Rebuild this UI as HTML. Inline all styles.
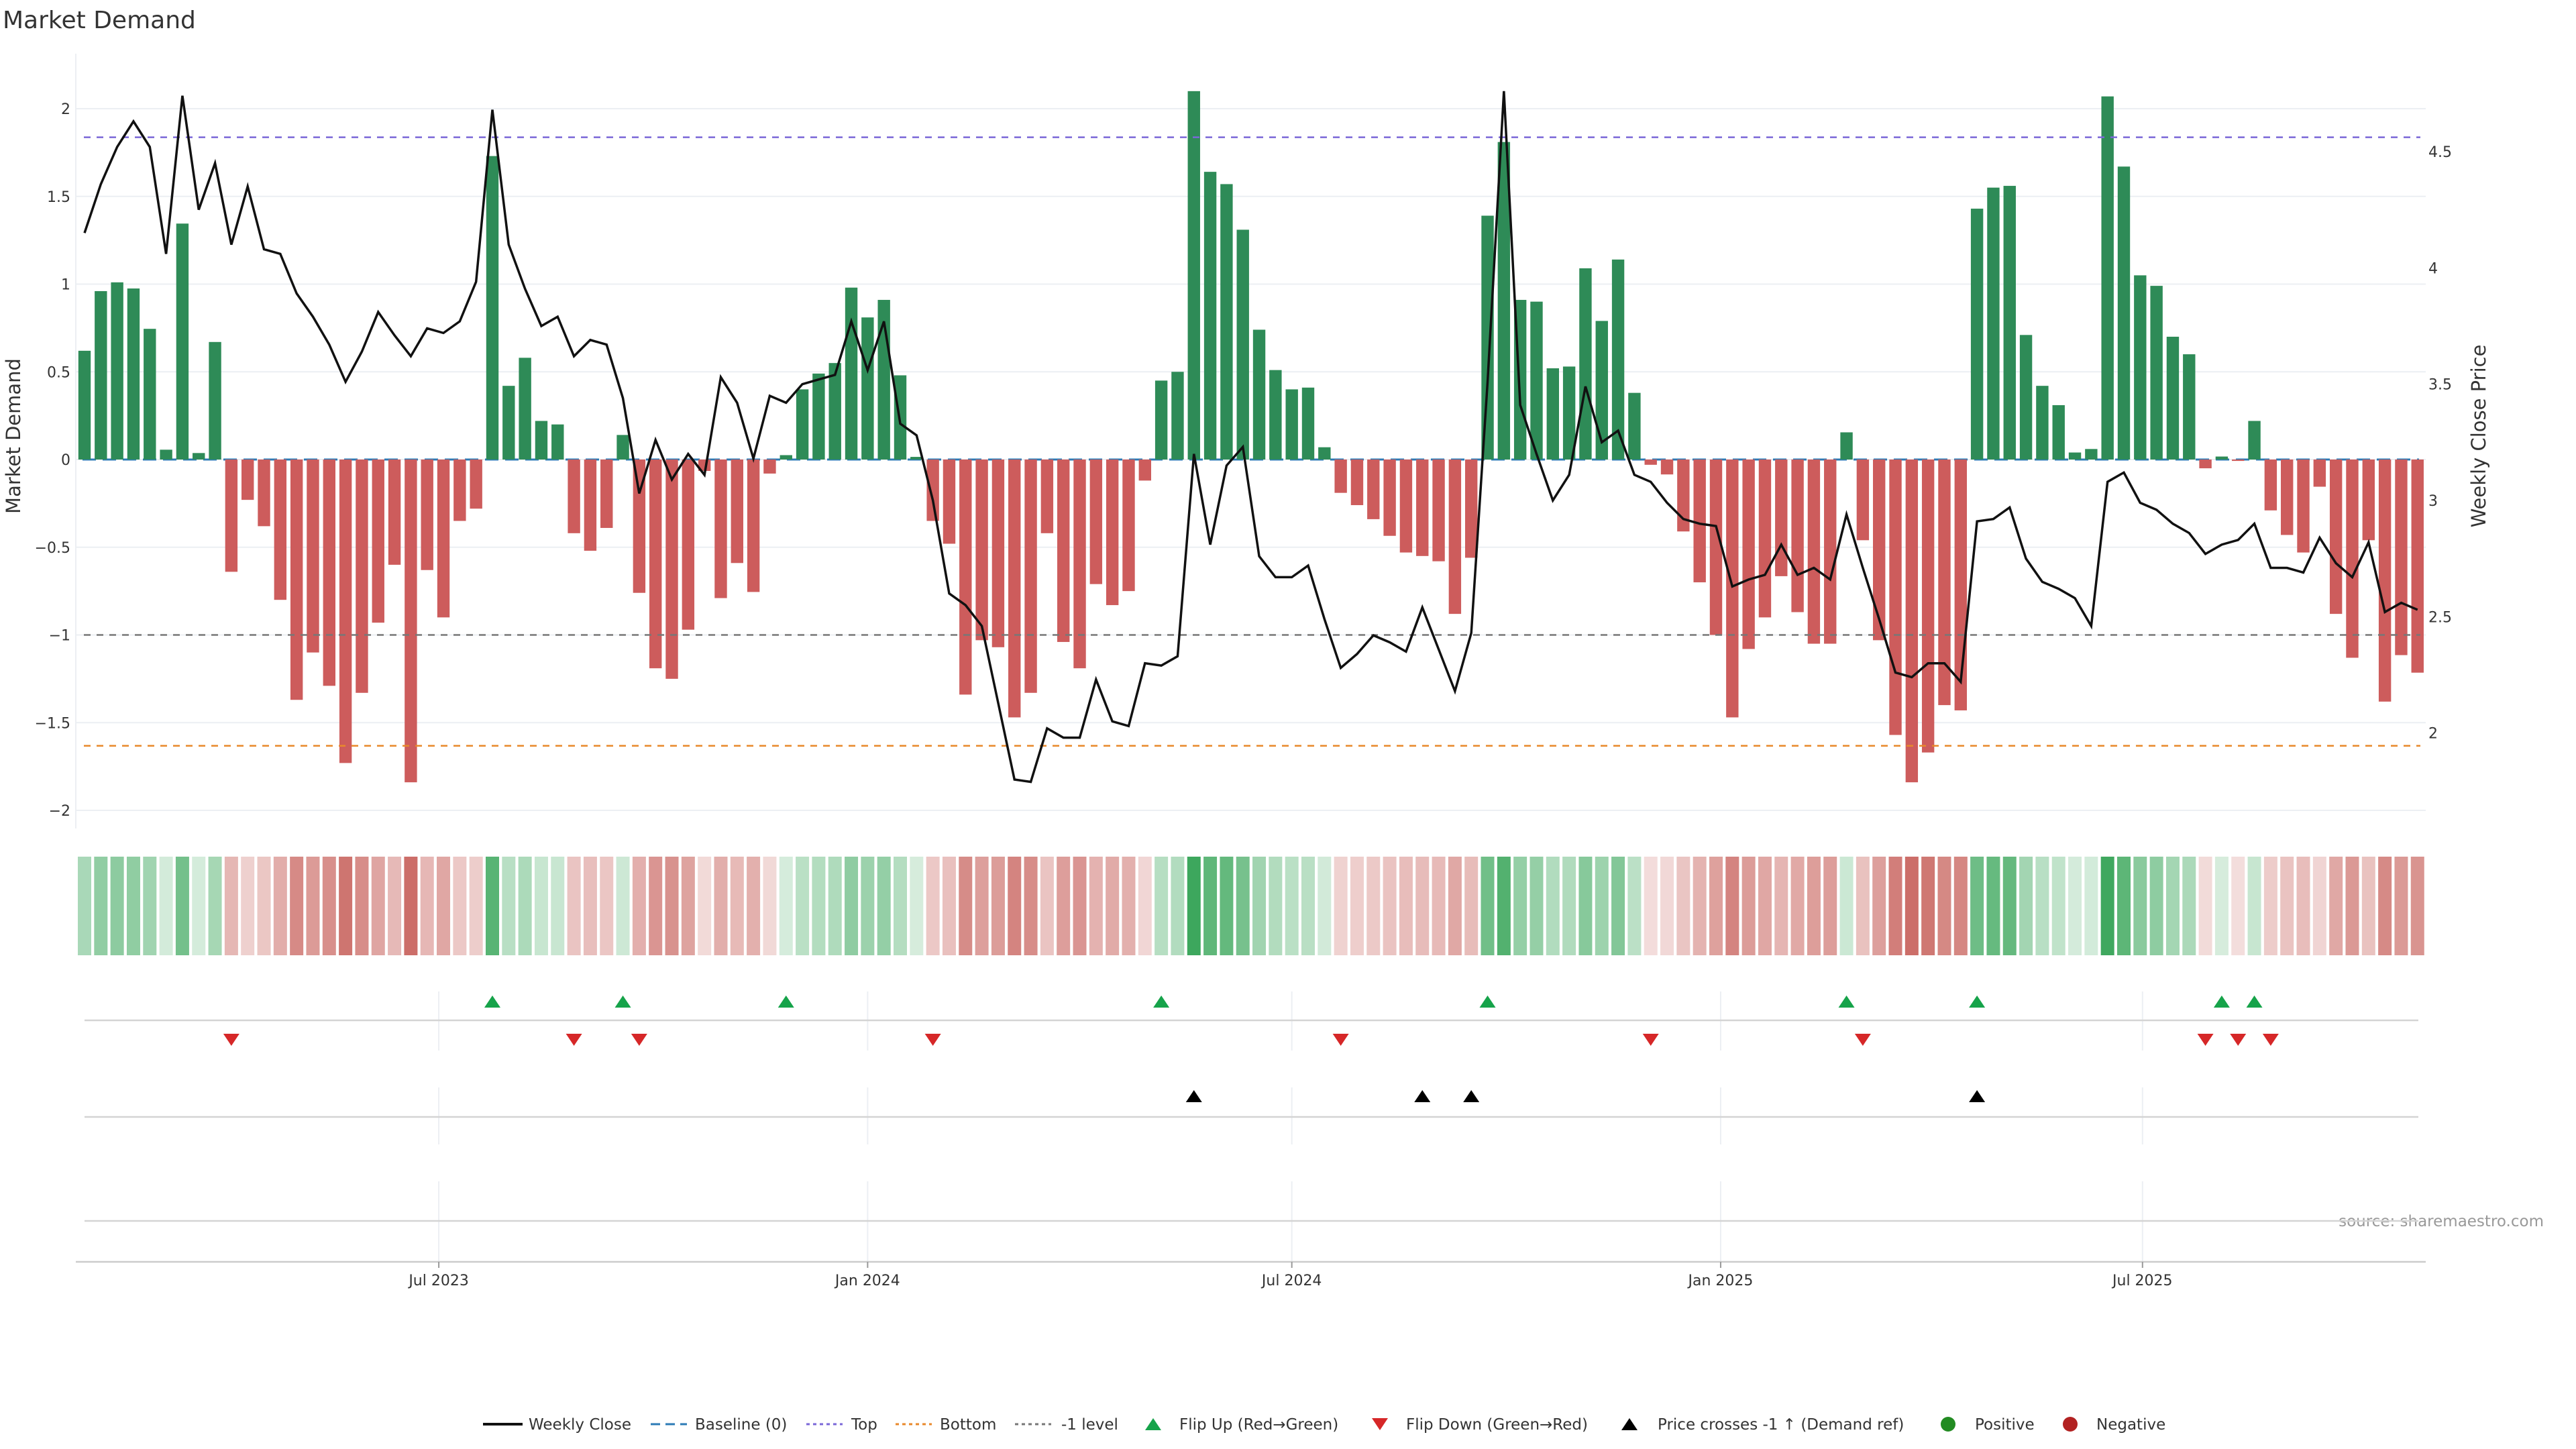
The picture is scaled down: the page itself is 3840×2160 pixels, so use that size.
<!DOCTYPE html>
<html><head><meta charset="utf-8"><title>Market Demand</title>
<style>
html,body{margin:0;padding:0;background:#fff;}
svg{display:block;font-family:"DejaVu Sans","Liberation Sans",sans-serif;}
</style></head>
<body>
<svg id="chart" width="3840" height="2160" viewBox="0 0 3840 2160" xmlns="http://www.w3.org/2000/svg">
<rect x="0" y="0" width="3840" height="2160" fill="#fff"/>
<text x="4" y="42" font-size="36" fill="#333">Market Demand</text>
<text transform="translate(30,650) rotate(-90)" text-anchor="middle" font-size="29" fill="#333">Market Demand</text>
<text transform="translate(3705,650) rotate(-90)" text-anchor="middle" font-size="29" fill="#333">Weekly Close Price</text>
<text x="3792" y="1828" text-anchor="end" font-size="23" fill="#999">source: sharemaestro.com</text>
<g id="grid"></g><g id="heat"></g><g id="bars"></g><g id="levels"></g><g id="line"></g><g id="panels"></g><g id="axes"></g><g id="legend"></g>
</svg>
<script>
const demand=[0.62,0.96,1.01,0.975,0.745,0.056,1.345,0.037,0.67,-0.64,-0.23,-0.38,-0.80,-1.37,-1.10,-1.29,-1.73,-1.33,-0.93,-0.60,-1.84,-0.63,-0.90,-0.35,-0.28,1.73,0.42,0.58,0.22,0.20,-0.42,-0.52,-0.39,0.14,-0.76,-1.19,-1.25,
-0.97,-0.065,-0.79,-0.59,-0.755,-0.08,0.025,0.40,0.49,0.55,0.98,0.81,0.91,0.48,0.015,-0.35,-0.48,-1.34,-1.03,-1.07,-1.47,-1.33,-0.42,-1.04,-1.19,-0.71,-0.83,-0.75,-0.12,0.45,0.50,2.10,1.64,1.57,1.31,0.74,
0.51,0.40,0.41,0.07,-0.19,-0.26,-0.34,-0.435,-0.53,-0.55,-0.58,-0.88,-0.56,1.39,1.81,0.91,0.90,0.52,0.53,1.09,0.79,1.14,0.38,-0.03,-0.085,-0.41,-0.70,-1.00,-1.47,-1.08,-0.90,-0.665,-0.87,-1.05,-1.05,0.155,
-0.46,-1.03,-1.57,-1.84,-1.67,-1.40,-1.43,1.43,1.55,1.56,0.71,0.42,0.31,0.04,0.06,2.07,1.67,1.05,0.99,0.70,0.60,-0.05,0.017,-0.008,0.22,-0.29,-0.43,-0.53,-0.155,-0.88,-1.13,-0.46,-1.38,-1.115,-1.215];
const price=[4.15,4.36,4.52,4.63,4.52,4.06,4.74,4.25,4.45,4.10,4.35,4.08,4.06,3.89,3.79,3.67,3.51,3.64,3.81,3.71,3.62,3.74,3.72,3.77,3.94,4.68,4.10,3.91,3.75,3.79,3.62,3.69,3.67,3.44,3.03,3.26,3.09,
3.20,3.11,3.53,3.42,3.18,3.45,3.42,3.50,3.52,3.54,3.77,3.56,3.77,3.33,3.28,3.00,2.60,2.55,2.46,2.13,1.80,1.79,2.02,1.98,1.98,2.23,2.05,2.03,2.30,2.29,2.33,3.20,2.81,3.15,3.23,2.76,
2.67,2.67,2.72,2.49,2.28,2.34,2.42,2.39,2.35,2.54,2.36,2.18,2.43,3.51,4.76,3.41,3.20,3.00,3.11,3.49,3.25,3.30,3.11,3.08,2.99,2.92,2.90,2.89,2.63,2.66,2.68,2.81,2.68,2.71,2.66,2.94,
2.71,2.49,2.26,2.24,2.30,2.30,2.22,2.91,2.92,2.97,2.75,2.65,2.62,2.58,2.46,3.08,3.12,2.99,2.96,2.90,2.86,2.77,2.81,2.83,2.90,2.71,2.71,2.69,2.84,2.73,2.67,2.82,2.52,2.56,2.53];
const crossIdx=[68,82,85,116];
const startDate="2023-01-30";
const yTicks=[-2,-1.5,-1,-0.5,0,0.5,1,1.5,2];
const yTickLabels=["−2","−1.5","−1","−0.5","0","0.5","1","1.5","2"];
const pTicks=[2,2.5,3,3.5,4,4.5];
const pTickLabels=["2","2.5","3","3.5","4","4.5"];
const dateTicks=["2023-07-01","2024-01-01","2024-07-01","2025-01-01","2025-07-01"];
const dateTickLabels=["Jul 2023","Jan 2024","Jul 2024","Jan 2025","Jul 2025"];
const topLevel=1.837, bottomLevel=-1.632, minusLevel=-1;

const NS="http://www.w3.org/2000/svg";
const X0=126, STEP=24.32, PL=113, PR=3616;
const d0=new Date(startDate+"T00:00:00Z").getTime();
function xIdx(i){return X0+i*STEP;}
function xDate(s){return X0+(new Date(s+"T00:00:00Z").getTime()-d0)/(7*864e5)*STEP;}
function yL(v){return 685-v*261.5;}
function yR(p){return 746-(p-3)*346.7;}
function mk(tag,attrs,parent){const e=document.createElementNS(NS,tag);for(const k in attrs)e.setAttribute(k,attrs[k]);parent.appendChild(e);return e;}
function mix(base,a){return "rgb("+base.map(c=>Math.round(255-a*(255-c))).join(",")+")";}
const G=id=>document.getElementById(id);

// gridlines
yTicks.forEach((t,i)=>{
  const l=mk("line",{x1:PL,x2:PR,y1:yL(t),y2:yL(t),stroke:"#eceff3","stroke-width":2},G("grid"));
  
  
  const tx=mk("text",{x:105,y:yL(t)+8,"text-anchor":"end","font-size":22,fill:"#333"},G("axes"));
  tx.textContent=yTickLabels[i];
  
  
});
pTicks.forEach((t,i)=>{
  const tx=mk("text",{x:3620,y:yR(t)+8,"font-size":22,fill:"#333"},G("axes"));
  tx.textContent=pTickLabels[i];
  
  
});
const ax=mk("line",{x1:PL,x2:PL,y1:80,y2:1235,stroke:"#eceff3","stroke-width":2},G("grid"));



// baseline
const bl=mk("line",{x1:PL+10,x2:PR-10,y1:yL(0),y2:yL(0),stroke:"#2c7bb6","stroke-width":3,"stroke-dasharray":"20,10"},G("grid"));



// bars + heatmap
demand.forEach((v,i)=>{
  const x=xIdx(i), pos=v>=0;
  const r=mk("rect",{x:x-9.2,width:18.4,y:Math.min(yL(v),yL(0)),height:Math.max(Math.abs(yL(v)-yL(0)),0.5),fill:pos?"#2e8b57":"#cd5c5c"},G("bars"));
  
  
  const a=0.2+0.8*Math.min(Math.abs(v)/2.2,1);
  const h=mk("rect",{x:x-10,width:20,y:1277,height:147,fill:mix(pos?[54,164,87]:[196,88,82],a)},G("heat"));
  
  
});

// level lines
[[topLevel,"#7b68d8","10,9","top-line"],[bottomLevel,"#e8892b","10,9","bottom-line"],[minusLevel,"#777","10,9","minus-one-level-line"]].forEach(d=>{
  const l=mk("line",{x1:PL+12,x2:PR-8,y1:yL(d[0]),y2:yL(d[0]),stroke:d[1],"stroke-width":2.5,"stroke-dasharray":d[2]},G("levels"));
  
  
});

// price line
const pl=mk("polyline",{points:price.map((p,i)=>xIdx(i)+","+yR(p)).join(" "),fill:"none",stroke:"#111","stroke-width":3.5,"stroke-linejoin":"miter"},G("line"));



// panels
[[1478,1566],[1621,1706],[1761,1881]].forEach(seg=>{
  dateTicks.forEach(d=>{
    const l=mk("line",{x1:xDate(d),x2:xDate(d),y1:seg[0],y2:seg[1],stroke:"#eceff3","stroke-width":2},G("panels"));
    
    
  });
});
[1521,1665,1820].forEach(y=>{
  const l=mk("line",{x1:126,x2:3605,y1:y,y2:y,stroke:"#d4d4d4","stroke-width":2.5},G("panels"));
  
  
});
function tri(x,y,up,color,parent,name){
  const pts=up?[[x-12,y+9],[x+12,y+9],[x,y-9]]:[[x-12,y-9],[x+12,y-9],[x,y+9]];
  const t=mk("polygon",{points:pts.map(p=>p.join(",")).join(" "),fill:color},parent);
  
  
}
for(let i=1;i<demand.length;i++){
  if(demand[i-1]<0&&demand[i]>=0) tri(xIdx(i),1493,true,"#16a34a",G("panels"),"flip-up-marker");
  if(demand[i-1]>=0&&demand[i]<0) tri(xIdx(i),1550,false,"#d62728",G("panels"),"flip-down-marker");
}
crossIdx.forEach(i=>tri(xIdx(i),1634,true,"#000",G("panels"),"price-cross-marker"));

// x axis
const xa=mk("line",{x1:PL,x2:PR,y1:1881,y2:1881,stroke:"#ccc","stroke-width":2.5},G("axes"));


dateTicks.forEach((d,i)=>{
  const x=xDate(d);
  const tk=mk("line",{x1:x,x2:x,y1:1881,y2:1890,stroke:"#999","stroke-width":2},G("axes"));
  
  
  const tx=mk("text",{x:x,y:1916,"text-anchor":"middle","font-size":22,fill:"#333"},G("axes"));
  tx.textContent=dateTickLabels[i];
  
  
});

// legend
const LY=2123, LG=G("legend");
function ltext(x,s,name){const t=mk("text",{x:x,y:LY+8,"font-size":23,fill:"#333"},LG);t.textContent=s;}
function lline(x1,x2,color,dash,w,name){const l=mk("line",{x1:x1,x2:x2,y1:LY,y2:LY,stroke:color,"stroke-width":w,"stroke-dasharray":dash},LG);}
lline(720,779,"#111","none",4,"legend-weekly-close-swatch");ltext(788,"Weekly Close","legend-weekly-close");
lline(970,1024,"#2c7bb6","14,8",3,"legend-baseline-swatch");ltext(1036,"Baseline (0)","legend-baseline");
lline(1202,1256,"#7b68d8","5,5",3,"legend-top-swatch");ltext(1269,"Top","legend-top");
lline(1335,1389,"#e8892b","5,5",3,"legend-bottom-swatch");ltext(1401,"Bottom","legend-bottom");
lline(1513,1567,"#777","5,5",3,"legend-minus-one-swatch");ltext(1582,"-1 level","legend-minus-one");
tri(1719,LY,true,"#16a34a",LG,"legend-flip-up-swatch");ltext(1758,"Flip Up (Red→Green)","legend-flip-up");
tri(2057,LY,false,"#d62728",LG,"legend-flip-down-swatch");ltext(2096,"Flip Down (Green→Red)","legend-flip-down");
tri(2429,LY,true,"#000",LG,"legend-price-cross-swatch");ltext(2471,"Price crosses -1 ↑ (Demand ref)","legend-price-cross");
const c1=mk("circle",{cx:2904,cy:LY,r:11,fill:"#228b22"},LG);


ltext(2944,"Positive","legend-positive");
const c2=mk("circle",{cx:3086,cy:LY,r:11,fill:"#b22222"},LG);


ltext(3125,"Negative","legend-negative");
</script>
</body></html>
